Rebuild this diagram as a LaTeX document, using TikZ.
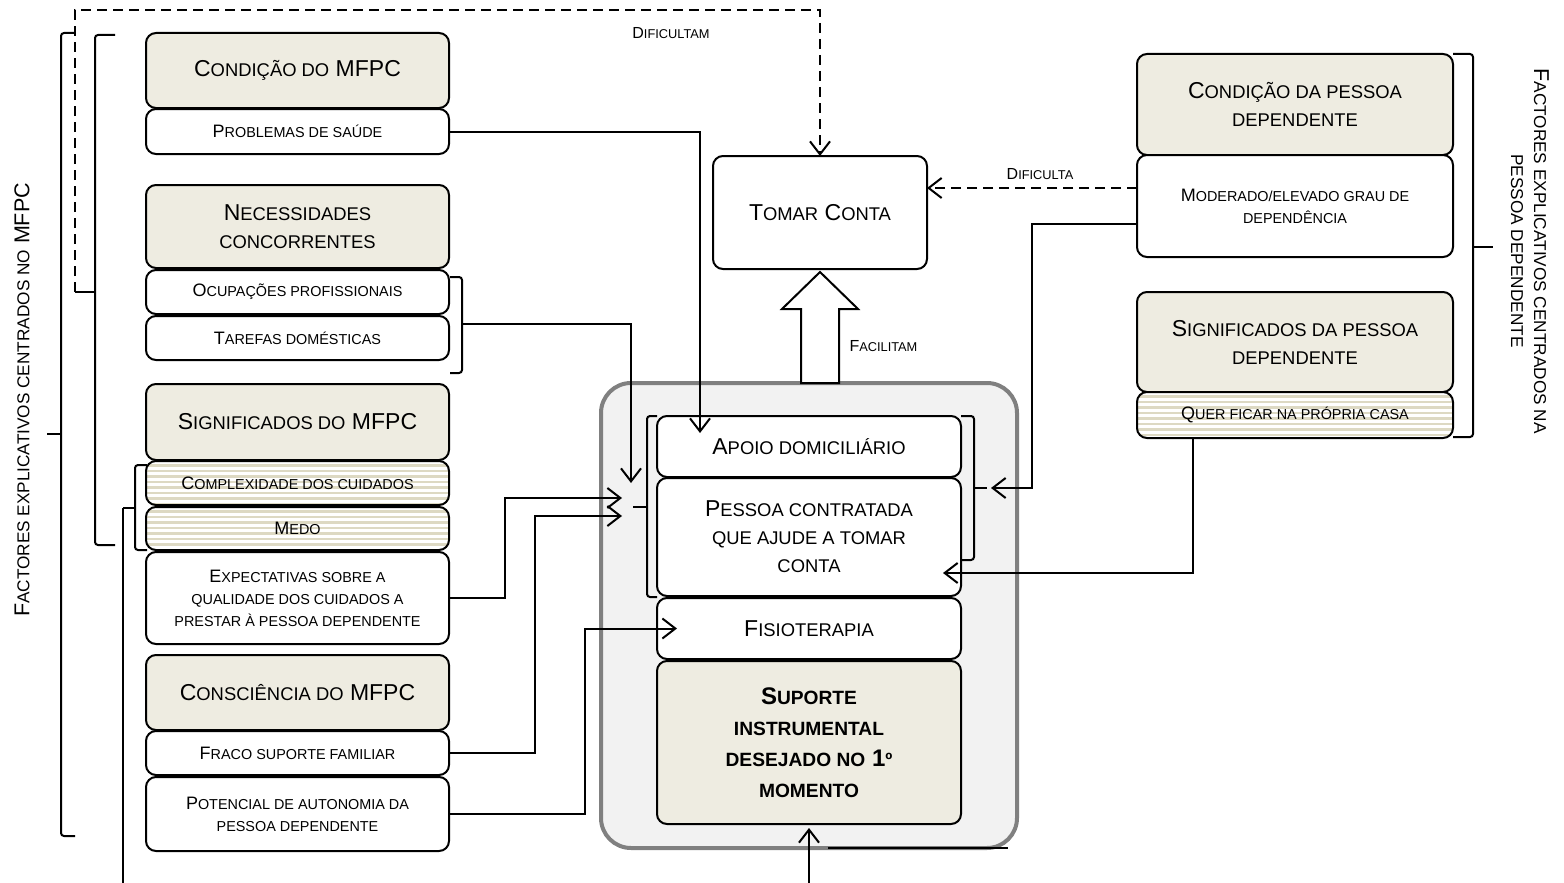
\documentclass[tikz,border=0pt]{standalone}
\usepackage{fontspec}
\setmainfont{Liberation Sans}
\usetikzlibrary{arrows.meta, positioning}
\definecolor{headbg}{HTML}{EEECE1}
\definecolor{stripe}{HTML}{DDD9C3}
\definecolor{panelbg}{HTML}{F2F2F2}
\definecolor{panelline}{HTML}{808080}
\makeatletter
% versaletes "à Word": minúsculas em maiúsculas pequenas
\newcommand\sml[1]{{\fontsize{\fpeval{0.8*\f@size}}{\f@baselineskip}\selectfont\MakeUppercase{#1}}}
\makeatother
\tikzset{
  % caixa genérica
  box/.style={draw, line width=2pt, rounded corners=10pt, fill=white, align=center,
    outer sep=0pt, inner sep=2pt, minimum width=303pt},
  % cabeçalho de um grupo de factores
  head/.style={box, fill=headbg, font=\fontsize{23}{28}\selectfont},
  % factor
  item/.style={box, font=\fontsize{18}{22}\selectfont},
  % tipos de suporte
  mid/.style={box, minimum width=304pt, font=\fontsize{23}{28}\selectfont},
  % fundo às riscas
  striped/.style={path picture={
    \foreach \k in {1,...,9}
      \draw[stripe, line width=2.4pt]
        ([yshift=-\k*5.5pt+1pt]path picture bounding box.north west) --
        ([yshift=-\k*5.5pt+1pt]path picture bounding box.north east);}},
  % ligações
  conn/.style={line width=2pt},
  arr/.style={conn, -{Straight Barb[length=13pt, width=20pt]}},
  dashline/.style={conn, dash pattern=on 10pt off 6pt},
  brace/.style={line width=2pt, rounded corners=3pt},
  % etiquetas
  lbl/.style={font=\fontsize{16}{19}\selectfont},
  side/.style={font=\fontsize{21.5}{23}\selectfont, align=center},
}
\begin{document}
\begin{tikzpicture}[x=1pt, y=-1pt]
  \useasboundingbox (0,0) rectangle (1564,883);
  % painel central
  \node[box, draw=panelline, line width=4pt, fill=panelbg, rounded corners=30pt,
    minimum width=416pt, minimum height=465pt] (panel) at (809,615.5) {};
  % factores centrados no MFPC
  \node[head, minimum height=75pt] (condmfpc) at (297.5,70.5) {C\sml{ondição do} MFPC};
  \node[item, minimum height=45pt, below=1pt of condmfpc] (saude) {P\sml{roblemas de saúde}};
  \node[head, minimum height=83pt] (necess) at (297.5,226.5) {N\sml{ecessidades}\\\sml{concorrentes}};
  \node[item, minimum height=44pt, below=2pt of necess] (ocup) {O\sml{cupações profissionais}};
  \node[item, minimum height=44pt, below=2pt of ocup] (taref) {T\sml{arefas domésticas}};
  \node[head, minimum height=76pt] (signmfpc) at (297.5,422) {S\sml{ignificados do} MFPC};
  \node[item, striped, minimum height=44pt, below=1pt of signmfpc] (complex) {C\sml{omplexidade dos cuidados}};
  \node[item, striped, minimum height=43pt, below=2pt of complex] (medo) {M\sml{edo}};
  \node[item, minimum height=92pt, below=2pt of medo] (expect)
    {E\sml{xpectativas sobre a}\\\sml{qualidade dos cuidados a}\\\sml{prestar à pessoa dependente}};
  \node[head, minimum height=75pt] (conscmfpc) at (297.5,692.5) {C\sml{onsciência do} MFPC};
  \node[item, minimum height=44pt, below=1pt of conscmfpc] (fraco) {F\sml{raco suporte familiar}};
  \node[item, minimum height=74pt, below=2pt of fraco] (potenc)
    {P\sml{otencial de autonomia da}\\\sml{pessoa dependente}};
  % tomar conta e suporte
  \node[box, minimum width=214pt, minimum height=113pt, font=\fontsize{23}{28}\selectfont] (tomar)
    at (820,212.5) {T\sml{omar} C\sml{onta}};
  \node[mid, minimum height=61pt] (apoio) at (809,446.5) {A\sml{poio domiciliário}};
  \node[mid, minimum height=118pt, below=1pt of apoio] (pessoa)
    {P\sml{essoa contratada}\\\sml{que ajude a tomar}\\\sml{conta}};
  \node[mid, minimum height=61pt, below=2pt of pessoa] (fisio) {F\sml{isioterapia}};
  \node[mid, fill=headbg, minimum height=163pt, below=2pt of fisio,
    font=\fontsize{24}{31}\selectfont\bfseries] (suporte)
    {S\sml{uporte}\\\sml{instrumental}\\\sml{desejado no} 1\sml{º}\\\sml{momento}};
  % factores centrados na pessoa dependente
  \node[head, minimum width=316pt, minimum height=101pt] (condpd) at (1295,104.5)
    {C\sml{ondição da pessoa}\\\sml{dependente}};
  \node[item, minimum width=316pt, minimum height=102pt, below=0pt of condpd] (moder)
    {M\sml{oderado/elevado grau de}\\\sml{dependência}};
  \node[head, minimum width=316pt, minimum height=100pt] (signpd) at (1295,342)
    {S\sml{ignificados da pessoa}\\\sml{dependente}};
  \node[item, striped, minimum width=316pt, minimum height=46pt, below=0pt of signpd] (quer)
    {Q\sml{uer ficar na própria casa}};
  % chavetas
  \draw[brace] (75,33) -- (61,33) -- (61,836) -- (75,836);
  \draw[brace] (61,434) -- (47,434);
  \draw[brace] (115,35) -- (95,35) -- (95,545) -- (115,545);
  \draw[brace] (95,292) -- (75,292) coordinate (ibr);
  \draw[brace] (147,465) -- (135,465) -- (135,550) -- (147,550);
  \draw[brace] (135,508) -- (123,508) coordinate (cbr);
  \draw[brace] (450,277) -- (462,277) -- (462,373) -- (450,373);
  \draw[brace] (462,324) -- (473,324) coordinate (tbr);
  \draw[brace] (657,416) -- (647,416) -- (647,597) -- (657,597);
  \draw[brace] (647,507) -- (633,507) coordinate (lbr);
  \draw[brace] (961,416) -- (974,416) -- (974,560) -- (961,560);
  \draw[brace] (974,488) -- (987,488) coordinate (rbr);
  \draw[brace] (1453,54) -- (1473,54) -- (1473,437) -- (1453,437);
  \draw[brace] (1473,247) -- (1493,247);
  \node[side, rotate=90] (lside) at (22,400) {F\sml{actores explicativos centrados no} MFPC};
  \node[side, rotate=-90] (rside) at (1530,251)
    {F\sml{actores explicativos centrados na}\\\sml{pessoa dependente}};
  % ligações
  \draw[dashline, -{Straight Barb[length=13pt, width=20pt]}]
    (ibr) |- ([yshift=146pt]tomar.north) -- (tomar.north);
  \node[lbl] (ldific) at (671,33) {D\sml{ificultam}};
  \draw[dashline, -{Straight Barb[length=13pt, width=20pt]}]
    ([yshift=18pt]moder.west) -- ([yshift=18pt]moder.west -| tomar.east);
  \node[lbl] (ldifa) at (1040,174) {D\sml{ificulta}};
  \draw[arr] (saude.east) -| ([xshift=-109pt, yshift=-17pt]apoio.north);
  \draw[arr] (tbr) -| ([xshift=-2pt, yshift=24pt]lbr);
  \draw[arr] (expect.east) -- ++(56,0) |- ([xshift=-11pt, yshift=9pt]lbr);
  \draw[arr] (fraco.east) -- ++(86,0) |- ([xshift=-11pt, yshift=-9pt]lbr);
  \draw[arr] (potenc.east) -- ++(136,0) |- ([xshift=20pt]fisio.west);
  \draw[arr] ([yshift=-18pt]moder.west) -- ++(-105,0) |- ([xshift=4pt]rbr);
  \draw[arr] ([xshift=-102pt]quer.south) |- ([xshift=-18pt, yshift=-36pt]pessoa.east);
  \draw[arr] (cbr) -- ++(0,400) -| ([yshift=-4pt]suporte.south);
  \draw[conn] ([xshift=19pt]panel.south) -- ++(180,0);
  % seta larga
  \draw[line width=2pt, fill=white] ([yshift=-3pt]tomar.south) -- ++(38,37) -- ++(-19,0)
    -- ++(0,74) -- ++(-38,0) -- ++(0,-74) -- ++(-19,0) -- cycle;
  \node[lbl, anchor=west] (lfacil) at (846,346) {F\sml{acilitam}};
\end{tikzpicture}
\end{document}
